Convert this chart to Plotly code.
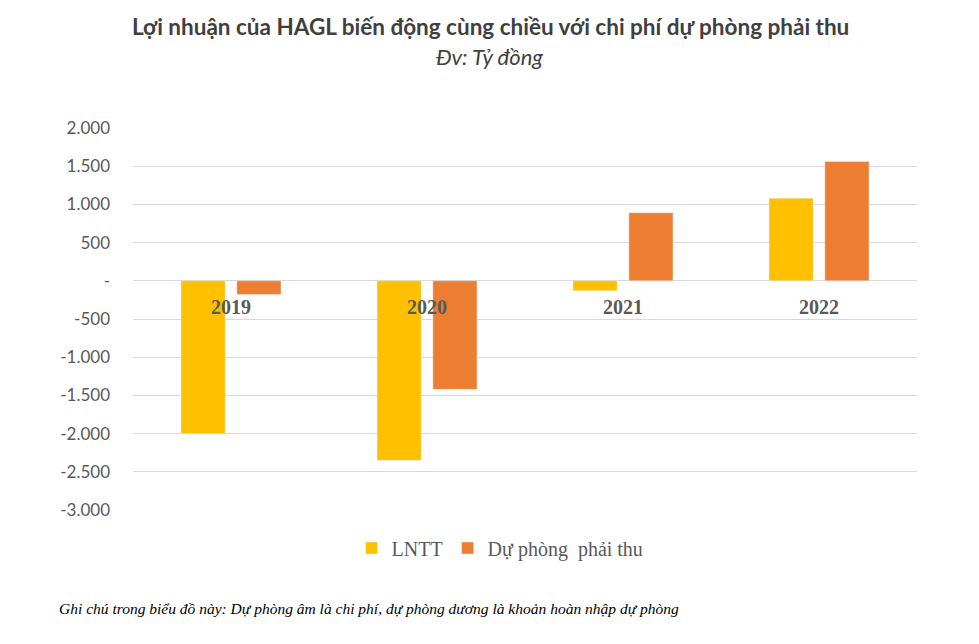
import plotly.graph_objects as go

years = ["2019", "2020", "2021", "2022"]
lntt = [-2000, -2350, -130, 1080]
du_phong = [-180, -1420, 890, 1560]
tick_vals = [2000, 1500, 1000, 500, 0, -500, -1000, -1500, -2000, -2500, -3000]
tick_text = ["2.000", "1.500", "1.000", "500", "-", "-500", "-1.000", "-1.500", "-2.000", "-2.500", "-3.000"]

W, H = 979, 644
L, R, T, B = 133, 62, 128, 134
h_plot = H - T - B
w_plot = W - L - R

def py(pix):
    return (H - B - pix) / h_plot

def px(pix):
    return (pix - L) / w_plot

fig = go.Figure()
fig.add_trace(go.Bar(x=years, y=lntt, name="LNTT", marker_color="#FFC000"))
fig.add_trace(go.Bar(x=years, y=du_phong, name="Dự phòng  phải thu", marker_color="#ED7D31"))

fig.update_layout(
    width=W, height=H,
    margin=dict(l=L, r=R, t=T, b=B),
    paper_bgcolor="white", plot_bgcolor="white",
    barmode="group", bargap=0.43, bargroupgap=0.21,
    showlegend=True,
    legend=dict(orientation="h", x=px(500), xanchor="center", y=py(548), yanchor="middle",
                font=dict(family="Liberation Serif", size=20, color="#595959"),
                traceorder="normal"),
    xaxis=dict(anchor="free", position=0.6, showline=False, ticks="", ticklabelstandoff=12,
               tickfont=dict(family="Liberation Serif", size=20, color="#595959", weight="bold"),
               showgrid=False, fixedrange=True),
    yaxis=dict(range=[-3000, 2000], tickvals=tick_vals, ticktext=tick_text,
               gridcolor="#d9d9d9", gridwidth=1, zeroline=True, zerolinecolor="#d9d9d9",
               zerolinewidth=1, showline=False, ticks="", ticklabelstandoff=22,
               tickfont=dict(family="Lato", size=17, color="#595959")),
    annotations=[
        dict(text="<b>Lợi nhuận của HAGL biến động cùng chiều với chi phí dự phòng phải thu</b>",
             x=px(490), xref="paper", xanchor="center", y=py(26), yref="paper", yanchor="middle",
             showarrow=False, font=dict(family="Lato", size=22.5, color="#404040")),
        dict(text="<i>Đv: Tỷ đồng</i>", x=px(489), xref="paper", xanchor="center",
             y=py(56), yref="paper", yanchor="middle",
             showarrow=False, font=dict(family="Lato", size=22, color="#404040")),
        dict(text="<i>Ghi chú trong biểu đồ này: Dự phòng âm là chi phí, dự phòng dương là khoản hoàn nhập dự phòng</i>",
             x=px(57), xref="paper", xanchor="left", y=py(608), yref="paper", yanchor="middle",
             showarrow=False, font=dict(family="Liberation Serif", size=15.5, color="#000000")),
    ],
)

fig.write_html("out.html")
